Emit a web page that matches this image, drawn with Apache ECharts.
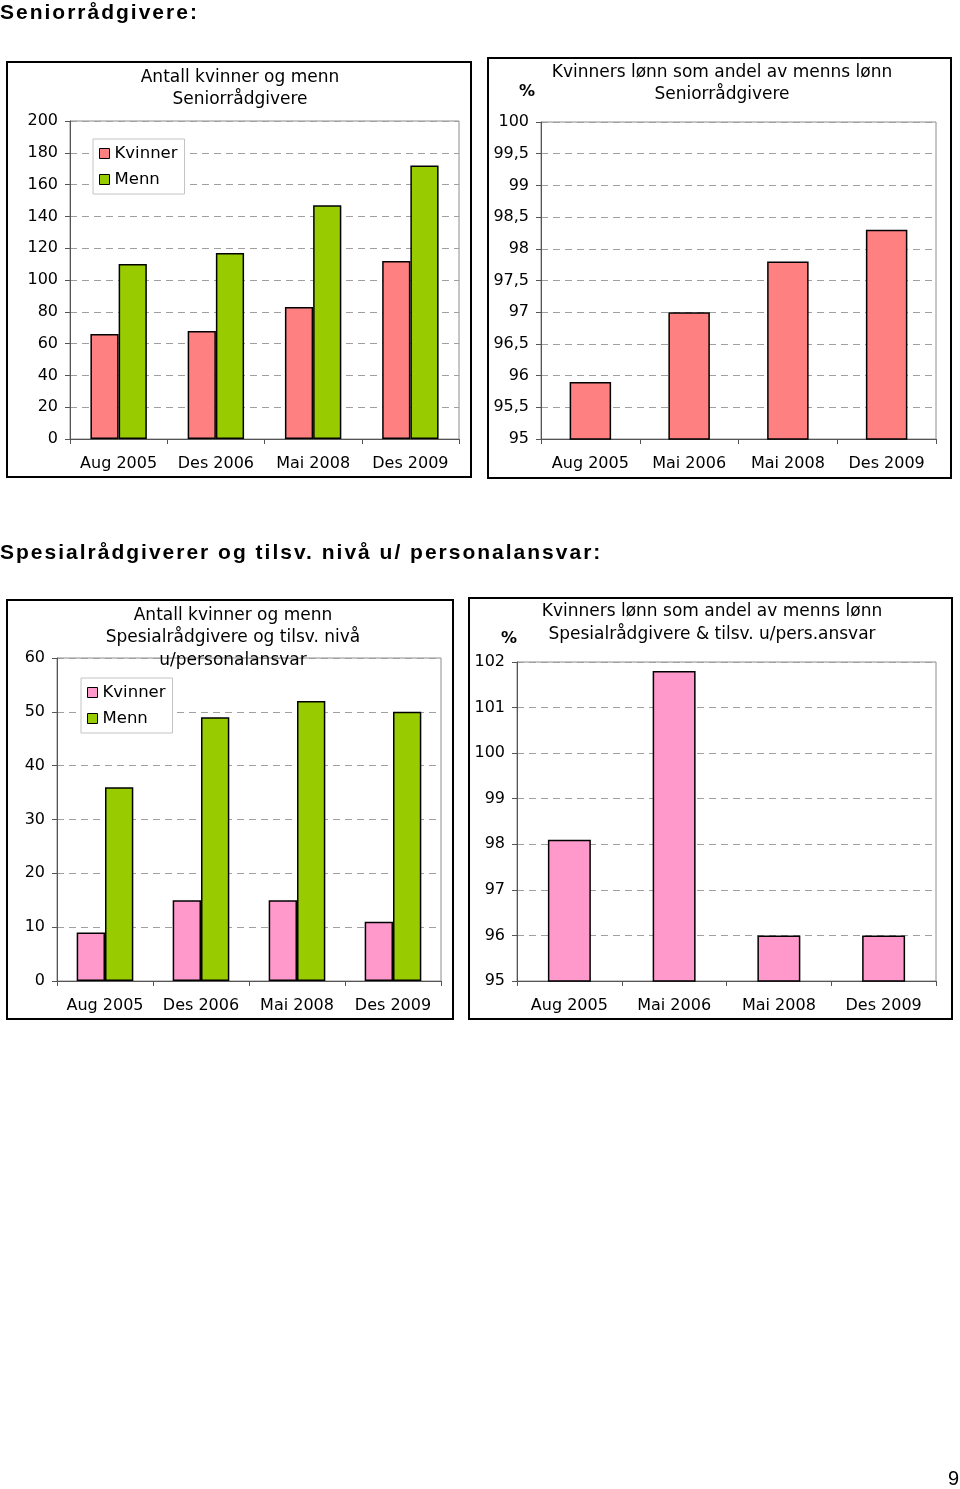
<!DOCTYPE html>
<html><head><meta charset="utf-8">
<script src="https://cdn.jsdelivr.net/npm/echarts@6/dist/echarts.min.js"></script>
<style>
html,body{margin:0;padding:0;background:#fff;}
#wrap{position:relative;width:960px;height:1489px;overflow:hidden;}
#chart{position:absolute;left:0;top:0;width:960px;height:1489px;}
.h{position:absolute;left:0;font:bold 21px "Liberation Sans",Arial,sans-serif;letter-spacing:2px;color:#000;white-space:nowrap;line-height:24px;}
#pg{position:absolute;left:948px;top:1467px;font:20px "Liberation Sans",Arial,sans-serif;color:#000;}
</style></head><body>
<div id="wrap"><div id="chart"></div>
<div class="h" style="top:0px">Seniorrådgivere:</div>
<div class="h" style="top:540px">Spesialrådgiverer og tilsv. nivå u/ personalansvar:</div>
<div id="pg">9</div>
</div>
<script>
// ---- data ----
const categories1 = ['Aug 2005', 'Des 2006', 'Mai 2008', 'Des 2009'];
const kvinner1 = [66, 68, 83, 112];
const menn1 = [110, 117, 147, 172];
const categories2 = ['Aug 2005', 'Mai 2006', 'Mai 2008', 'Des 2009'];
const andel2 = [95.9, 97.0, 97.8, 98.3];
const categories3 = ['Aug 2005', 'Des 2006', 'Mai 2008', 'Des 2009'];
const kvinner3 = [9, 15, 15, 11];
const menn3 = [36, 49, 52, 50];
const categories4 = ['Aug 2005', 'Mai 2006', 'Mai 2008', 'Des 2009'];
const andel4 = [98.1, 101.8, 96.0, 96.0];
const seriesNames = ['Kvinner', 'Menn'];
const titles1 = ['Antall kvinner og menn', 'Seniorrådgivere'];
const titles2 = ['Kvinners lønn som andel av menns lønn', 'Seniorrådgivere'];
const titles3 = ['Antall kvinner og menn', 'Spesialrådgivere og tilsv. nivå', 'u/personalansvar'];
const titles4 = ['Kvinners lønn som andel av menns lønn', 'Spesialrådgivere & tilsv. u/pers.ansvar'];

// ---- styling ----
const F = '"DejaVu Sans", "Liberation Sans", Arial, sans-serif';
const AX = '#555555';
const BORDER = '#8c8c8c';
const C_K1 = '#FF8080', C_M = '#99CC00', C_K2 = '#FF99CC';

const chart = echarts.init(document.getElementById('chart'), null, {renderer: 'canvas'});

function xAx(gi, cats) {
  return {
    type: 'category', gridIndex: gi, data: cats,
    axisLine: {show: true, lineStyle: {color: AX, width: 1}},
    axisTick: {show: true, length: 5, lineStyle: {color: AX}},
    axisLabel: {color: '#000', fontFamily: F, fontSize: 16, margin: 17, interval: 0, hideOverlap: false},
    splitLine: {show: false}
  };
}
function yAx(gi, min, max, interval, fmt) {
  return {
    type: 'value', gridIndex: gi, min: min, max: max, interval: interval,
    axisLine: {show: true, lineStyle: {color: AX, width: 1}},
    axisTick: {show: true, length: 5, lineStyle: {color: AX}},
    axisLabel: {color: '#000', fontFamily: F, fontSize: 16, margin: 12, formatter: fmt},
    splitLine: {show: true, lineStyle: {color: '#a0a0a0', type: [7, 5], width: 1}}
  };
}
const comma = v => String(Math.round(v * 10) / 10).replace('.', ',');

function legendFor(left, top, kColor) {
  return {
    left: left, top: top, orient: 'vertical', itemWidth: 10, itemHeight: 10, itemGap: 9,
    padding: [6, 7, 6, 6], borderColor: '#c4c4c4', borderWidth: 1, backgroundColor: '#fff',
    selectedMode: false, icon: 'rect',
    textStyle: {fontFamily: F, fontSize: 16.5, color: '#000'},
    data: [
      {name: seriesNames[0], itemStyle: {color: kColor, borderColor: '#000', borderWidth: 1}},
      {name: seriesNames[1], itemStyle: {color: C_M, borderColor: '#000', borderWidth: 1}}
    ]
  };
}

function txt(x, y, s, extra) {
  return {
    type: 'text', x: x, y: y, z: 100,
    style: Object.assign({text: s, font: '17px ' + F, fill: '#000',
      align: 'center', verticalAlign: 'middle', textAlign: 'center', textVerticalAlign: 'middle'}, extra || {})
  };
}
function box(x, y, w, h) {
  return {type: 'rect', z: -10, shape: {x: x, y: y, width: w, height: h},
    style: {fill: '#fff', stroke: '#000', lineWidth: 2}};
}

const barStyle = c => ({color: c, borderColor: '#000', borderWidth: 1.5});

const option = {
  animation: false,
  grid: [
    {left: 70, top: 121, width: 389, height: 318, show: true, borderColor: BORDER, borderWidth: 1, backgroundColor: 'transparent'},
    {left: 541, top: 122, width: 395, height: 317, show: true, borderColor: BORDER, borderWidth: 1, backgroundColor: 'transparent'},
    {left: 57, top: 658, width: 384, height: 323, show: true, borderColor: BORDER, borderWidth: 1, backgroundColor: 'transparent'},
    {left: 517, top: 662, width: 419, height: 319, show: true, borderColor: BORDER, borderWidth: 1, backgroundColor: 'transparent'}
  ],
  xAxis: [xAx(0, categories1), xAx(1, categories2), xAx(2, categories3), xAx(3, categories4)],
  yAxis: [yAx(0, 0, 200, 20), yAx(1, 95, 100, 0.5, comma), yAx(2, 0, 60, 10), yAx(3, 95, 102, 1)],
  legend: [legendFor(93, 139, C_K1), legendFor(81, 678, C_K2)],
  series: [
    {type: 'bar', name: seriesNames[0], xAxisIndex: 0, yAxisIndex: 0, data: kvinner1, barWidth: '29%', barGap: '0%', itemStyle: barStyle(C_K1)},
    {type: 'bar', name: seriesNames[1], xAxisIndex: 0, yAxisIndex: 0, data: menn1, barWidth: '29%', barGap: '0%', itemStyle: barStyle(C_M)},
    {type: 'bar', name: 'Andel', xAxisIndex: 1, yAxisIndex: 1, data: andel2, barWidth: '42%', itemStyle: barStyle(C_K1)},
    {type: 'bar', name: seriesNames[0], xAxisIndex: 2, yAxisIndex: 2, data: kvinner3, barWidth: '29.5%', barGap: '0%', itemStyle: barStyle(C_K2)},
    {type: 'bar', name: seriesNames[1], xAxisIndex: 2, yAxisIndex: 2, data: menn3, barWidth: '29.5%', barGap: '0%', itemStyle: barStyle(C_M)},
    {type: 'bar', name: 'Andel ', xAxisIndex: 3, yAxisIndex: 3, data: andel4, barWidth: '41%', itemStyle: barStyle(C_K2)}
  ],
  graphic: [
    box(7, 62, 464, 415),
    box(488, 58, 463, 420),
    box(7, 600, 446, 419),
    box(469, 598, 483, 421),
    txt(240, 78, titles1[0]), txt(240, 100, titles1[1]),
    txt(722, 73, titles2[0]), txt(722, 95, titles2[1]),
    txt(527, 92, '%', {font: 'bold 16px ' + F}),
    txt(233, 616, titles3[0]), txt(233, 638, titles3[1]), txt(233, 661, titles3[2]),
    txt(712, 612, titles4[0]), txt(712, 635, titles4[1]),
    txt(509, 639, '%', {font: 'bold 16px ' + F})
  ]
};
chart.setOption(option);
</script>
</body></html>
